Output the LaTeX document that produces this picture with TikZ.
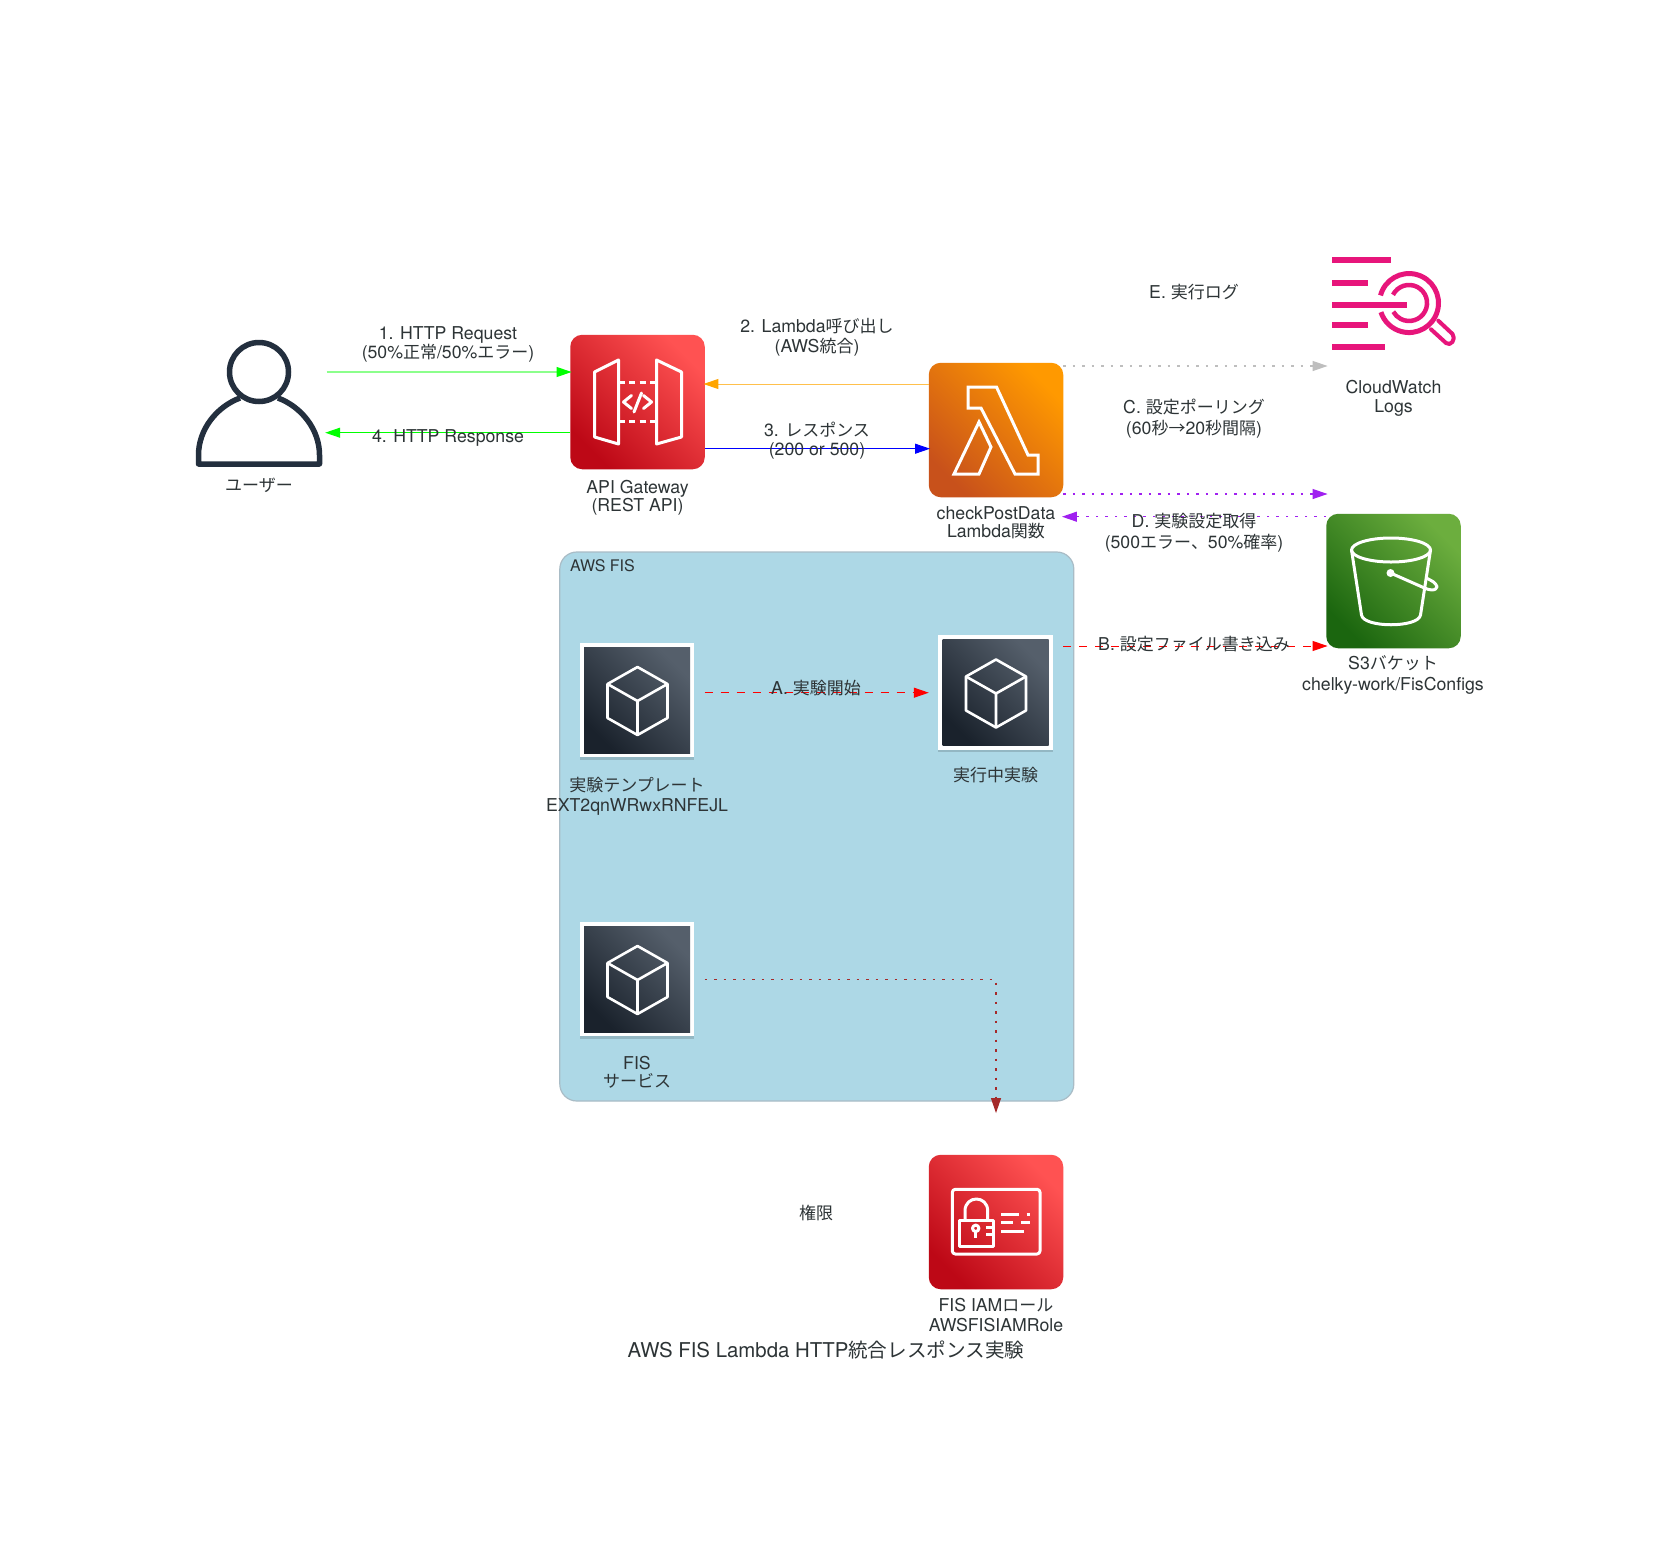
\documentclass[tikz,border=0pt]{standalone}
\usepackage{fontspec}
\usetikzlibrary{arrows.meta,calc,shadows}
\setmainfont{TeX Gyre Heros}
\newfontfamily\cjk[Scale=0.96]{Noto Sans CJK JP}
\newcommand\J[1]{{\cjk #1}}
\definecolor{txt}{HTML}{2D3436}
\definecolor{usr}{HTML}{232F3E}
\definecolor{pinkc}{HTML}{E7157B}
\definecolor{lightblue}{HTML}{ADD8E6}
\definecolor{clusterb}{HTML}{A9BCC6}
\definecolor{cubeL}{HTML}{1A222C}
\definecolor{cubeR}{HTML}{555F6B}
\definecolor{redL}{HTML}{BD0816}
\definecolor{redR}{HTML}{FF5252}
\definecolor{orL}{HTML}{C8511B}
\definecolor{orR}{HTML}{FF9900}
\definecolor{grL}{HTML}{1B660F}
\definecolor{grR}{HTML}{6CAE3E}
\definecolor{purple1}{HTML}{A020F0}
\definecolor{brown1}{HTML}{A52A2A}
\definecolor{gray1}{HTML}{BEBEBE}
\definecolor{orange1}{HTML}{FFA500}
\definecolor{green1}{HTML}{00FF00}
\tikzset{
  lbl/.style={inner sep=0pt,text=txt,align=center,font=\fontsize{17.7}{18}\selectfont},
  awsbox/.style 2 args={minimum size=134.5pt,inner sep=0pt,rounded corners=12pt,left color=#1,right color=#2,shading angle=135},
  holder/.style={minimum size=135pt,inner sep=0pt},
  whitebar/.style={draw=white,line width=3pt,line join=miter},
  frame/.style={minimum size=114.5pt,inner sep=0pt,fill=white,drop shadow={shadow xshift=0pt,shadow yshift=-2.5pt,opacity=.15,fill=black}},
  inner/.style={minimum width=106pt,minimum height=106pt,inner sep=0pt,left color=cubeL,right color=cubeR,shading angle=135},
  conn/.style={line width=1pt,shorten >=-1.5pt},
  dotline/.style={line width=1.15pt,dash pattern=on 2.5pt off 7pt},
  dashline/.style={dash pattern=on 8pt off 8pt},
}
\newcommand\cubeicon[1]{%
  \begin{scope}[shift={(#1)},draw=white,line width=2.6pt,line join=round]
    \draw (0.5,-33) -- (30.5,-16) -- (30.5,18) -- (0.5,35) -- (-29.5,18) -- (-29.5,-16) -- cycle;
    \draw (-29.5,-16) -- (0.5,1) -- (30.5,-16) (0.5,1) -- (0.5,35);
  \end{scope}}
\begin{document}
\begin{tikzpicture}[x=1pt,y=-1pt]
\useasboundingbox (0,0) rectangle (1653,1558);
\fill[white] (0,0) rectangle (1653,1558);

% cluster
\node[minimum width=514pt,minimum height=549pt,inner sep=0pt,rounded corners=17pt,fill=lightblue,draw=clusterb,line width=1.2pt] (fiscluster) at (816.8,826.5) {};

% icon nodes
\node[holder] (user) at (259,402) {};
\node[awsbox={redL}{redR}] (api) at (637.5,402) {};
\node[awsbox={orL}{orR}] (lambda) at (996,430) {};
\node[holder] (logs) at (1393.5,303) {};
\node[awsbox={grL}{grR}] (s3) at (1393.5,581) {};
\node[awsbox={redL}{redR}] (iam) at (996,1222) {};
\node[holder] (tmplh) at (637,700) {};
\node[holder] (runh) at (995.5,692.5) {};
\node[holder] (fish) at (637,979) {};

\node[frame] (tmpl) at (637,700) {};
\node[inner] at (tmpl) {};
\cubeicon{tmpl}
\node[frame] (run) at (995.5,692.5) {};
\node[inner] at (run) {};
\cubeicon{run}
\node[frame] (fis) at (637,979) {};
\node[inner] at (fis) {};
\cubeicon{fis}

% user icon
\begin{scope}[shift={(user)},draw=usr,line width=5.5pt,line join=round]
  \draw (0,-30) circle[radius=29.5];
  \draw (-19,-4) .. controls (-43,5) and (-60.5,28) .. (-60.5,53) -- (-60.5,62) -- (60.5,62) -- (60.5,53) .. controls (60.5,28) and (43,5) .. (19,-4);
\end{scope}

% API icon
\begin{scope}[shift={(api)},whitebar,line width=3pt,line join=round,line cap=round]
  \draw (-43,-30) -- (-19,-42) -- (-19,42) -- (-43,35) -- cycle;
  \draw (19,-42) -- (44,-30) -- (44,35) -- (19,42) -- cycle;
  \draw[line cap=butt,dash pattern=on 6pt off 4.5pt] (-19,-19.5) -- (19,-19.5);
  \draw[line cap=butt,dash pattern=on 6pt off 4.5pt] (-19,19.5) -- (19,19.5);
  \draw (-6,-6.5) -- (-14,0) -- (-6,6.5);
  \draw (6,-6.5) -- (14,0) -- (6,6.5);
  \draw (4,-9) -- (-3.5,10);
\end{scope}

% lambda icon
\begin{scope}[shift={(lambda)},whitebar,line join=miter]
  \draw (-28,-43) -- (0.5,-43) -- (32,25) -- (42,25) -- (42,44) -- (19,44) -- (-15,-22) -- (-28,-22) -- cycle;
  \draw (-17,-8) -- (-5,17) -- (-17,44) -- (-42,44) -- cycle;
\end{scope}

% S3 icon
\begin{scope}[shift={(s3)},whitebar,line join=round]
  \draw (-2.5,-31) ellipse[x radius=39.5,y radius=12];
  \draw (-42,-31) -- (-32,34) .. controls (-30,47) and (25,47) .. (27,34) -- (37,-31);
  \fill[white] (-3,-8) circle[radius=4];
  \draw (-3,-8) -- (31,7) .. controls (42,12) and (46,6) .. (42,3) .. controls (40,0) and (34,-2) .. (33,-3);
\end{scope}

% CloudWatch icon
\begin{scope}[shift={(logs)},draw=pinkc,line width=6pt,line cap=butt]
  \draw (-61.5,-43) -- (-3,-43);
  \draw (-61.5,-20) -- (-25.5,-20);
  \draw (-61.5,2) -- (13.5,2);
  \draw (-61.5,22) -- (-25.5,22);
  \draw (-61.5,44) -- (-8.5,44);
  \draw[line width=5pt] (-13,-7.6) arc[start angle=-165,end angle=162,radius=29.5];
  \draw[line width=4.5pt] (-0.5,-8.2) arc[start angle=-153,end angle=151,radius=18];
  \draw[line width=4pt,line join=round,line cap=round] (44.8,17.7) -- (59,31) .. controls (63,36) and (57,44) .. (52.5,40) -- (37.5,26.3);
\end{scope}

% IAM icon
\begin{scope}[shift={(iam)},whitebar,line width=3pt,line join=round]
  \draw[rounded corners=3pt] (-43.7,-32.7) rectangle (44,32);
  \draw (-37,-2) rectangle (-2.7,24);
  \draw (-31,-2) -- (-31,-11) .. controls (-31,-27) and (-8.3,-27) .. (-8.3,-11) -- (-8.3,-2);
  \draw (-20.3,6.3) circle[radius=3.2];
  \draw (-20.3,9.5) -- (-20.3,16);
  \draw (-10,5) -- (-2.7,5) (-10,12) -- (-2.7,12);
  \draw (5,-7.7) -- (23,-7.7) (30.7,-7.7) -- (34,-7.7);
  \draw (5,0.3) -- (17.3,0.3) (25,0.3) -- (34,0.3);
  \draw (5,9.7) -- (28.3,9.7);
\end{scope}

% connectors
\coordinate (iamTop) at ($(iam.north)+(0,-43)$);
\draw[conn,draw=green1!45,line width=2.4pt,-{Triangle[length=15pt,width=10pt,fill=green1,color=green1,line width=1pt]}] ($(user.east)+(0,-30)$) -- ($(api.west)+(0,-30)$);
\draw[conn,draw=green1,-{Triangle[length=15pt,width=10pt]}] ($(api.west)+(0,30.7)$) -- ($(user.east)+(0,30.7)$);
\draw[conn,draw=orange1!70,-{Triangle[length=15pt,width=10pt,fill=orange1,color=orange1]}] ($(lambda.west)+(0,-46)$) -- ($(api.east)+(0,-18)$);
\draw[conn,draw=blue,-{Triangle[length=15pt,width=10pt]}] ($(api.east)+(0,46.7)$) -- ($(lambda.west)+(0,18.7)$);
\draw[conn,draw=gray1,dotline,-{Triangle[length=15pt,width=10pt]}] ($(lambda.east)+(0,-64)$) -- ($(s3.west)+(0,-215)$);
\draw[conn,draw=purple1,dotline,-{Triangle[length=15pt,width=10pt]}] ($(lambda.east)+(0,64)$) -- ($(s3.west)+(0,-87)$);
\draw[conn,draw=purple1,dotline,-{Triangle[length=15pt,width=10pt]}] ($(s3.west)+(0,-64.3)$) -- ($(lambda.east)+(0,86.7)$);
\draw[conn,draw=red,dashline,-{Triangle[length=15pt,width=10pt]}] ($(lambda.east)+(0,216)$) -- ($(s3.west)+(0,65)$);
\draw[conn,draw=red,dashline,-{Triangle[length=15pt,width=10pt]}] ($(tmplh.east)+(0,-7.3)$) -- ($(runh.west)+(-0.5,0.2)$);
\draw[conn,draw=brown1,dotline,-{Triangle[length=15pt,width=10pt]}] ($(fish.east)+(0,0.5)$) -| (iamTop);

% labels
\node[lbl] (l1) at (448,344.5) {1. HTTP Request\\(50\%\J{正常}/50\%\J{エラー})};
\node[lbl] (l4) at (448,438) {4. HTTP Response};
\node[lbl] (l2) at (817,337) {2. Lambda\J{呼び出し}\\[2pt](AWS\J{統合})};
\node[lbl] (l3) at (817,440.5) {3. \J{レスポンス}\\[0.5pt](200 or 500)};
\node[lbl] (lE) at (1194,291.7) {E. \J{実行ログ}};
\node[lbl] (lC) at (1194,418.5) {C. \J{設定ポーリング}\\[3pt](60\J{秒→}20\J{秒間隔})};
\node[lbl] (lD) at (1194,532.5) {D. \J{実験設定取得}\\[3pt](500\J{エラー、}50\%\J{確率})};
\node[lbl] (lB) at (1194,644) {B. \J{設定ファイル書き込み}};
\node[lbl] (lA) at (816,688) {A. \J{実験開始}};
\node[lbl] (lP) at (816,1212.7) {\J{権限}};
\node[lbl] at (259,485) {\J{ユーザー}};
\node[lbl] at (637.5,498) {API Gateway\\(REST API)};
\node[lbl] at (996,522.5) {checkPostData\\Lambda\J{関数}};
\node[lbl] at (1393.5,398.5) {CloudWatch\\[1pt]Logs};
\node[lbl] at (1393,675) {S3\J{バケット}\\[2.7pt]chelky-work/FisConfigs};
\node[lbl] at (637,796) {\J{実験テンプレート}\\[2pt]EXT2qnWRwxRNFEJL};
\node[lbl] at (995.5,775) {\J{実行中実験}};
\node[lbl] at (637,1072.5) {FIS\\\J{サービス}};
\node[lbl] at (996,1315) {FIS IAM\J{ロール}\\[2pt]AWSFISIAMRole};
\node[lbl,font=\fontsize{20.4}{21}\selectfont] at (826,1350) {AWS FIS Lambda HTTP\J{統合レスポンス実験}};
\node[lbl,anchor=west,font=\fontsize{16}{17}\selectfont] at (570,566) {AWS FIS};
\end{tikzpicture}
\end{document}
